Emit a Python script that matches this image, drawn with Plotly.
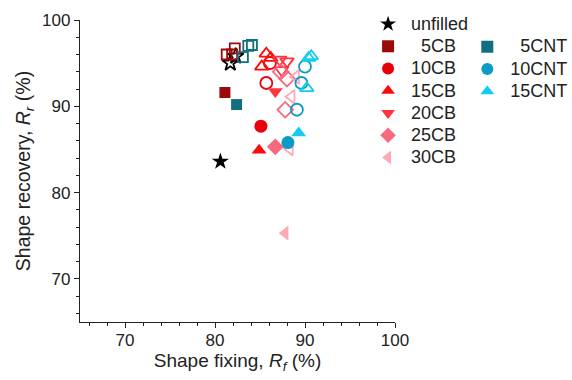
import plotly.graph_objects as go

# ---- data ----
series_names = ["unfilled", "5CB", "10CB", "15CB", "20CB", "25CB", "30CB", "5CNT", "10CNT", "15CNT"]
legend_labels = ["unfilled", "\u00a0\u00a05CB", "10CB", "15CB", "20CB", "25CB", "30CB", "\u00a0\u00a05CNT", "10CNT", "15CNT"]

# first cycle (filled markers)
filled_x = {"unfilled": [80.6], "5CB": [81.1], "10CB": [85.1], "15CB": [84.9], "20CB": [86.7],
            "25CB": [86.7], "30CB": [87.8], "5CNT": [82.4], "10CNT": [88.1], "15CNT": [89.3]}
filled_y = {"unfilled": [83.6], "5CB": [91.6], "10CB": [87.7], "15CB": [84.9], "20CB": [91.7],
            "25CB": [85.3], "30CB": [75.3], "5CNT": [90.2], "10CNT": [85.8], "15CNT": [86.9]}

# later cycles (open markers)
open_x = {"unfilled": [81.7, 82.3], "5CB": [81.3, 82.2, 81.9], "10CB": [85.7, 86.1],
          "15CB": [85.2, 85.7, 86.2], "20CB": [87.2, 88.0, 87.4], "25CB": [87.8, 88.0, 87.3],
          "30CB": [88.5, 88.3, 89.0], "5CNT": [83.1, 83.7, 84.1], "10CNT": [89.1, 90.0, 89.6],
          "15CNT": [90.4, 90.2, 90.7]}
open_y = {"unfilled": [95.0, 95.8], "5CB": [96.0, 96.7, 96.0], "10CB": [92.7, 95.0],
          "15CB": [94.6, 96.1, 95.6], "20CB": [95.4, 95.2, 94.2], "25CB": [89.6, 93.2, 94.0],
          "30CB": [91.1, 85.1, 93.4], "5CNT": [95.7, 97.0, 97.1], "10CNT": [89.6, 94.6, 92.7],
          "15CNT": [95.6, 92.1, 95.8]}

colors = {"unfilled": "#000000", "5CB": "#9b0a0a", "10CB": "#e8000b", "15CB": "#ff0a0a",
          "20CB": "#ff3440", "25CB": "#f8687e", "30CB": "#ffa9b6", "5CNT": "#10707f",
          "10CNT": "#0a9cc4", "15CNT": "#13cdf0"}
symbols = {"unfilled": "star", "5CB": "square", "10CB": "circle", "15CB": "triangle-up",
           "20CB": "triangle-down", "25CB": "diamond", "30CB": "triangle-left", "5CNT": "square",
           "10CNT": "circle", "15CNT": "triangle-up"}
sizes = {"unfilled": 13, "5CB": 11, "10CB": 13, "15CB": 13, "20CB": 13, "25CB": 13,
         "30CB": 13, "5CNT": 11, "10CNT": 13, "15CNT": 13}

fig = go.Figure()
FONT = "Liberation Sans, Arial, sans-serif"

for name in series_names:
    fig.add_trace(go.Scatter(
        x=open_x[name], y=open_y[name], mode="markers", showlegend=False,
        marker=dict(symbol=symbols[name] + "-open", size=sizes[name] - 1, color=colors[name],
                    line=dict(width=1.8, color=colors[name])),
        hoverinfo="skip"))

for name, label in zip(series_names, legend_labels):
    leg = "legend2" if "CNT" in name else "legend"
    fig.add_trace(go.Scatter(
        x=filled_x[name], y=filled_y[name], mode="markers",
        name='<span style="font-size:18px">' + label + "</span>", legend=leg,
        marker=dict(symbol=symbols[name], size=sizes[name], color=colors[name],
                    line=dict(width=0))))

axis_common = dict(showline=True, linecolor="#222", linewidth=1.3, ticks="outside",
                   ticklen=5, tickwidth=1.2, tickcolor="#222", showgrid=False, zeroline=False,
                   dtick=10, tickfont=dict(family=FONT, size=17, color="#222"),
                   minor=dict(dtick=2, ticks="outside", ticklen=3, tickwidth=1, tickcolor="#222"))

legend_common = dict(xanchor="left", yanchor="top", bgcolor="rgba(0,0,0,0)",
                     font=dict(family=FONT, size=14.8, color="#222"), tracegroupgap=0,
                     itemsizing="constant", traceorder="normal", maxheight=380,
                     itemwidth=36)

fig.update_layout(
    width=572, height=380,
    margin=dict(l=80, r=177, t=20, b=58, autoexpand=False),
    plot_bgcolor="white", paper_bgcolor="white",
    font=dict(family=FONT, size=18, color="#222"),
    xaxis=dict(range=[65, 100], title=dict(text="Shape fixing, <i>R</i><sub><i>f</i></sub> (%)",
               font=dict(family=FONT, size=19, color="#222"), standoff=4),
               ticklabelstandoff=-3, **axis_common),
    yaxis=dict(range=[65, 100], title=dict(text="Shape recovery, <i>R</i><sub><i>r</i></sub> (%)",
               font=dict(family=FONT, size=19.5, color="#222"), standoff=6), **axis_common),
    legend=dict(x=0.905, y=1.04, **legend_common),
    legend2=dict(x=1.22, y=0.965, **legend_common),
)

fig.write_html("out.html")
